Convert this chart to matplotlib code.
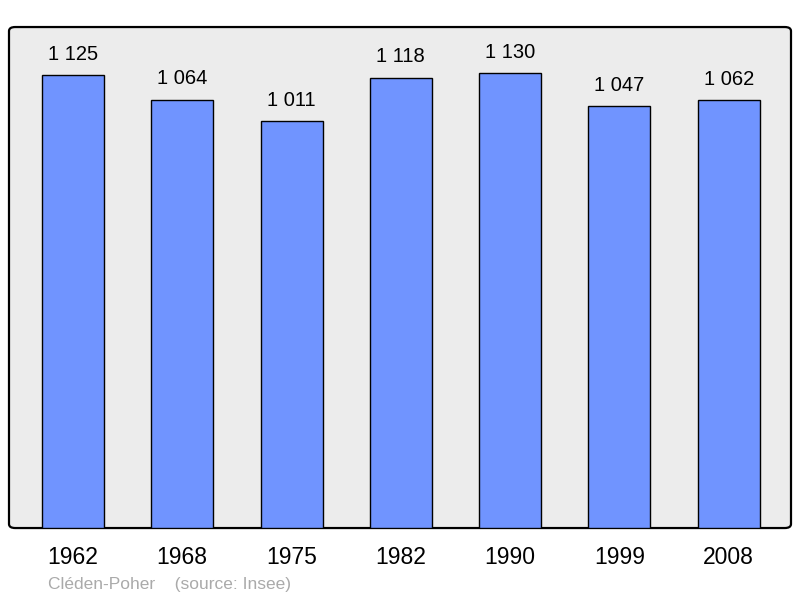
import matplotlib
matplotlib.use('Agg')
import matplotlib.pyplot as plt
from matplotlib.patches import FancyBboxPatch

# Population data
years = ['1962', '1968', '1975', '1982', '1990', '1999', '2008']
population = [1125, 1064, 1011, 1118, 1130, 1047, 1062]
value_labels = ['1 125', '1 064', '1 011', '1 118', '1 130', '1 047', '1 062']

plt.rcParams['font.family'] = ['Liberation Sans', 'DejaVu Sans']

fig = plt.figure(figsize=(8, 5.98), dpi=100)
ax = fig.add_axes([0.01125, 0.117, 0.9775, 0.8378])

# Background frame with rounded corners
ax.set_facecolor('none')
for s in ax.spines.values():
	s.set_visible(False)
frame = FancyBboxPatch((0, 0), 1, 1, boxstyle='round,pad=0,rounding_size=0.008',
	transform=ax.transAxes, facecolor='#ececec', edgecolor='black', linewidth=1.6,
	zorder=0, clip_on=False)
ax.add_patch(frame)

x = list(range(len(years)))
ax.bar(x, population, width=0.567, color='#7094ff', edgecolor='black', linewidth=1.0, zorder=2)

for xi, val, lab in zip(x, population, value_labels):
	ax.annotate(lab, (xi, val), xytext=(0, 15), textcoords='offset points',
		ha='center', va='center', fontsize=14.5, color='black')

ax.set_xlim(-0.585, 6.57)
ax.set_ylim(0, 1244)
ax.set_xticks(x)
ax.set_xticklabels(years, fontsize=16.5)
ax.tick_params(axis='x', length=0, pad=13)
ax.set_yticks([])

fig.text(0.06, 0.022, 'Cléden-Poher    (source: Insee)', fontsize=12.5, color='#aaaaaa',
	ha='left', va='center')

fig.savefig('out.png', dpi=100)
